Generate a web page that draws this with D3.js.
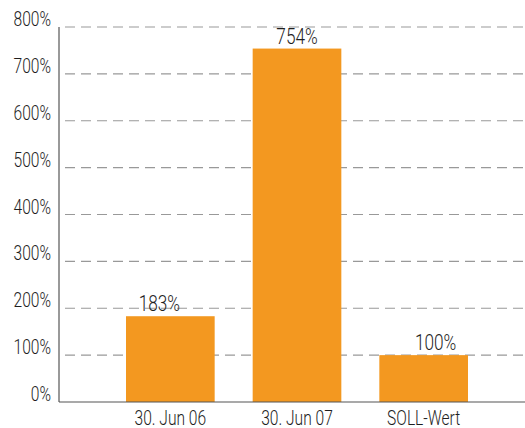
<!DOCTYPE html>
<html><head><meta charset="utf-8">
<script src="https://cdn.jsdelivr.net/npm/d3@7"></script>
<style>body{margin:0;background:#fff}svg{display:block}</style>
</head><body>
<svg id="c" width="525" height="428"></svg>
<script>
const categories = ["30. Jun 06", "30. Jun 07", "SOLL-Wert"];
const values = [183, 754, 100];
const valueLabels = ["183%", "754%", "100%"];
const yTicks = [0, 100, 200, 300, 400, 500, 600, 700, 800];

(function () {
const labelShift = [-11, 0, 12];
const font = "Roboto, sans-serif";
const sx = 0.8;
const svg = d3.select("#c");
const pl = 59, pr = 525, pt = 27, pb = 402;

const y = d3.scaleLinear().domain([0, 800]).range([pb, pt]);
const x = d3.scaleBand().domain(categories).range([88, 506]).paddingInner(0.3).paddingOuter(0.3);

svg.append("g").selectAll("line").data(yTicks.filter(d => d > 0)).join("line")
  .attr("x1", pl).attr("x2", pr)
  .attr("y1", d => y(d)).attr("y2", d => y(d))
  .attr("stroke", "#999").attr("stroke-width", 1.2)
  .attr("stroke-dasharray", "10,6").attr("stroke-dashoffset", -6);

svg.append("g").selectAll("rect").data(values).join("rect")
  .attr("x", (d, i) => x(categories[i]))
  .attr("width", x.bandwidth())
  .attr("y", d => y(d))
  .attr("height", d => y(0) - y(d))
  .attr("fill", "#F39820");

svg.append("line").attr("x1", pl).attr("x2", pl).attr("y1", pt).attr("y2", pb)
  .attr("stroke", "#555").attr("stroke-width", 1.2);
svg.append("line").attr("x1", pl).attr("x2", pr).attr("y1", pb).attr("y2", pb)
  .attr("stroke", "#555").attr("stroke-width", 1.2);

function lab(sel, fx, fy, size, anchor) {
  sel.attr("transform", (d, i) => `translate(${fx(d, i)},${fy(d, i)}) scale(${sx},1)`)
    .attr("text-anchor", anchor)
    .attr("font-family", font).attr("font-weight", 300)
    .attr("font-size", size).attr("fill", "#1e1e1e");
}

lab(svg.append("g").selectAll("text").data(yTicks).join("text").text(d => d + "%"),
  () => 51, d => y(d) - 1, 19.5, "end");

lab(svg.append("g").selectAll("text").data(categories).join("text").text(d => d),
  d => x(d) + x.bandwidth() / 2, () => 424.5, 19.5, "middle");

lab(svg.append("g").selectAll("text").data(values).join("text").text((d, i) => valueLabels[i]),
  (d, i) => x(categories[i]) + x.bandwidth() / 2 + labelShift[i], d => y(d) - 5, 21.5, "middle");
})();
</script>
</body></html>
